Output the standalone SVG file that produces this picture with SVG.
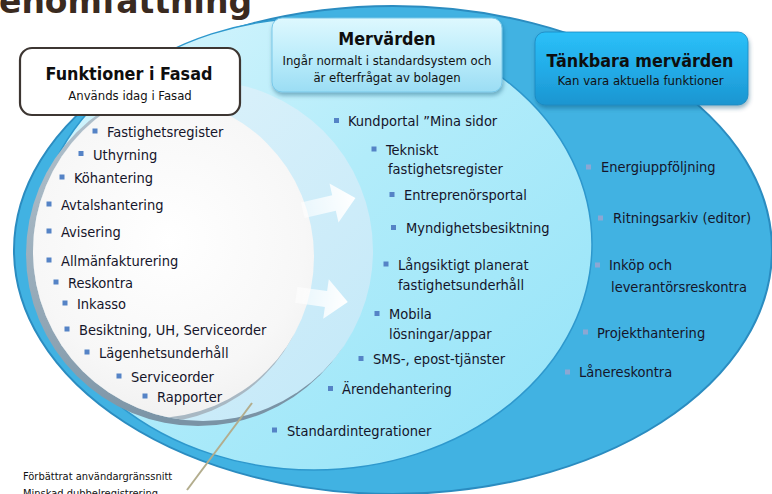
<svg xmlns="http://www.w3.org/2000/svg" width="772" height="494" viewBox="0 0 772 494">
  <defs>
    <linearGradient id="cyanFill" x1="0" y1="0" x2="1" y2="1">
      <stop offset="0" stop-color="#dcf6fd"/>
      <stop offset="0.45" stop-color="#b2ecfa"/>
      <stop offset="1" stop-color="#93e3f8"/>
    </linearGradient>
    <linearGradient id="paleFill" x1="0" y1="0" x2="1" y2="1">
      <stop offset="0" stop-color="#e2f4fb"/>
      <stop offset="1" stop-color="#c2e8f8"/>
    </linearGradient>
    <radialGradient id="whiteFill" cx="0.55" cy="0.45" r="0.6">
      <stop offset="0" stop-color="#ffffff"/>
      <stop offset="0.7" stop-color="#f7f7f7"/>
      <stop offset="1" stop-color="#efefef"/>
    </radialGradient>
    <linearGradient id="rimFill" x1="0" y1="0" x2="0.4" y2="1">
      <stop offset="0" stop-color="#b8c6d0"/>
      <stop offset="1" stop-color="#7a93a5"/>
    </linearGradient>
    <linearGradient id="mervBox" x1="0" y1="0" x2="0" y2="1">
      <stop offset="0" stop-color="#def8fe"/>
      <stop offset="0.5" stop-color="#bdedfb"/>
      <stop offset="1" stop-color="#9bddf4"/>
    </linearGradient>
    <linearGradient id="tankBox" x1="0" y1="0" x2="0" y2="1">
      <stop offset="0" stop-color="#2bc0f8"/>
      <stop offset="0.55" stop-color="#22aae6"/>
      <stop offset="1" stop-color="#1c95d0"/>
    </linearGradient>
    <linearGradient id="arrowFill" x1="0" y1="0" x2="1" y2="0">
      <stop offset="0" stop-color="#ffffff" stop-opacity="0.55"/>
      <stop offset="1" stop-color="#ffffff" stop-opacity="1"/>
    </linearGradient>
    <clipPath id="discClip">
      <circle cx="203" cy="251" r="170"/>
    </clipPath>
    <filter id="shadow" x="-10%" y="-10%" width="125%" height="150%">
      <feDropShadow dx="1" dy="3" stdDeviation="2.2" flood-color="#0a4a70" flood-opacity="0.4"/>
    </filter>
  </defs>
  <style>
    text { font-family: "DejaVu Sans Condensed", "DejaVu Sans", sans-serif; font-stretch: condensed; fill: #15152a; }
    .item { font-size: 14.5px; }
    .b { fill: #5583c6; }
    .bd { fill: #8ca7d3; }
    .head { font-size: 17.8px; font-weight: bold; text-anchor: middle; fill: #0e0e0e; }
    .sub { font-size: 13px; text-anchor: middle; fill: #111111; }
    .cap { font-size: 11px; fill: #111111; }
    .title { font-family: "DejaVu Sans", sans-serif; font-stretch: normal; font-size: 33px; font-weight: bold; fill: #3a2a20; }
  </style>

  <!-- page heading, partly above the top edge -->
  <text class="title" x="-1" y="13">enomfattning</text>

  <!-- nested regions -->
  <g id="regions">
    <ellipse cx="393" cy="250" rx="379" ry="244" fill="#41b2e2" stroke="#2b8cc0" stroke-width="2"/>
    <ellipse cx="314" cy="244" rx="278" ry="226" fill="url(#cyanFill)" stroke="#2e98cd" stroke-width="1.5"/>
    <!-- disc with bevelled rim -->
    <circle cx="198" cy="254" r="172" fill="url(#rimFill)"/>
    <circle cx="203" cy="251" r="170" fill="url(#paleFill)"/>
    <g clip-path="url(#discClip)">
      <circle cx="150" cy="262" r="161" fill="#a9b8c3"/>
      <circle cx="153" cy="257" r="161" fill="url(#whiteFill)"/>
    </g>
  </g>

  <!-- connectors: flow arrows and caption leader -->
  <g id="connectors">
    <path transform="translate(334,203) rotate(-13)" d="M-32,-8 H0 V-20 L22,0 L0,20 V8 H-32 Z" fill="url(#arrowFill)"/>
    <path transform="translate(326,299) rotate(8)" d="M-30,-8 H0 V-20 L22,0 L0,20 V8 H-30 Z" fill="url(#arrowFill)"/>
    <path d="M252,403 L187,490" stroke="#b3ad8d" stroke-width="2" fill="none"/>
  </g>

  <!-- Funktioner i Fasad -->
  <g id="fasad">
    <rect x="20" y="48" width="220" height="67" rx="12" fill="#ffffff" stroke="#3d3632" stroke-width="2.2"/>
    <text class="head" x="129" y="80">Funktioner i Fasad</text>
    <text class="sub" x="130" y="100">Används idag i Fasad</text>
    <g class="b">
      <rect x="92.5" y="128.5" width="5" height="5"/>
      <rect x="78.5" y="151" width="5" height="5"/>
      <rect x="59.5" y="174.5" width="5" height="5"/>
      <rect x="46.5" y="201.5" width="5" height="5"/>
      <rect x="46.5" y="228.5" width="5" height="5"/>
      <rect x="46.5" y="257.5" width="5" height="5"/>
      <rect x="53.5" y="279.5" width="5" height="5"/>
      <rect x="62.5" y="300.5" width="5" height="5"/>
      <rect x="64.5" y="326.5" width="5" height="5"/>
      <rect x="84.5" y="349.5" width="5" height="5"/>
      <rect x="116.5" y="373.5" width="5" height="5"/>
      <rect x="142.5" y="393.5" width="5" height="5"/>
    </g>
    <text class="item" x="107" y="137">Fastighetsregister</text>
    <text class="item" x="93" y="160">Uthyrning</text>
    <text class="item" x="74" y="183">Köhantering</text>
    <text class="item" x="61" y="210">Avtalshantering</text>
    <text class="item" x="61" y="237">Avisering</text>
    <text class="item" x="61" y="266">Allmänfakturering</text>
    <text class="item" x="68" y="288">Reskontra</text>
    <text class="item" x="77" y="309">Inkasso</text>
    <text class="item" x="79" y="335">Besiktning, UH, Serviceorder</text>
    <text class="item" x="99" y="358">Lägenhetsunderhåll</text>
    <text class="item" x="131" y="382">Serviceorder</text>
    <text class="item" x="157" y="402">Rapporter</text>
  </g>

  <!-- Mervärden -->
  <g id="mervarden">
    <rect x="272" y="18" width="230" height="74" rx="10" fill="url(#mervBox)" stroke="#78c8e9" stroke-width="1" filter="url(#shadow)"/>
    <text class="head" x="387" y="45">Mervärden</text>
    <text class="sub" x="387" y="65">Ingår normalt i standardsystem och</text>
    <text class="sub" x="387" y="82">är efterfrågat av bolagen</text>
    <g class="b">
      <rect x="334" y="118" width="5" height="5"/>
      <rect x="371.5" y="146.5" width="5" height="5"/>
      <rect x="389.5" y="192" width="5" height="5"/>
      <rect x="391" y="225" width="5" height="5"/>
      <rect x="383.5" y="261.5" width="5" height="5"/>
      <rect x="374.5" y="311" width="5" height="5"/>
      <rect x="358.5" y="356" width="5" height="5"/>
      <rect x="328" y="386" width="5" height="5"/>
      <rect x="272" y="427.5" width="5" height="5"/>
    </g>
    <text class="item" x="348" y="126">Kundportal ”Mina sidor</text>
    <text class="item" x="386" y="155">Tekniskt</text>
    <text class="item" x="388" y="174">fastighetsregister</text>
    <text class="item" x="404" y="200">Entreprenörsportal</text>
    <text class="item" x="406" y="233">Myndighetsbesiktning</text>
    <text class="item" x="398" y="270">Långsiktigt planerat</text>
    <text class="item" x="398" y="290">fastighetsunderhåll</text>
    <text class="item" x="389" y="319">Mobila</text>
    <text class="item" x="389" y="339">lösningar/appar</text>
    <text class="item" x="373" y="364">SMS-, epost-tjänster</text>
    <text class="item" x="342" y="394">Ärendehantering</text>
    <text class="item" x="287" y="436">Standardintegrationer</text>
  </g>

  <!-- Tänkbara mervärden -->
  <g id="tankbara">
    <rect x="535" y="32" width="213" height="73" rx="10" fill="url(#tankBox)" stroke="#1a88c0" stroke-width="0.8" filter="url(#shadow)"/>
    <text class="head" x="640" y="67">Tänkbara mervärden</text>
    <text class="sub" x="640.5" y="85">Kan vara aktuella funktioner</text>
    <g class="bd">
      <rect x="586" y="164.5" width="5" height="5"/>
      <rect x="598" y="215.5" width="5" height="5"/>
      <rect x="595" y="262.5" width="5" height="5"/>
      <rect x="583" y="329.5" width="5" height="5"/>
      <rect x="565" y="369.5" width="5" height="5"/>
    </g>
    <text class="item" x="601" y="172">Energiuppföljning</text>
    <text class="item" x="613" y="223">Ritningsarkiv (editor)</text>
    <text class="item" x="609" y="270">Inköp och</text>
    <text class="item" x="611" y="292">leverantörsreskontra</text>
    <text class="item" x="597" y="338">Projekthantering</text>
    <text class="item" x="579" y="377">Lånereskontra</text>
  </g>

  <!-- caption -->
  <g id="caption">
    <text class="cap" x="23" y="480">Förbättrat användargränssnitt</text>
    <text class="cap" x="23" y="497">Minskad dubbelregistrering</text>
  </g>
</svg>
